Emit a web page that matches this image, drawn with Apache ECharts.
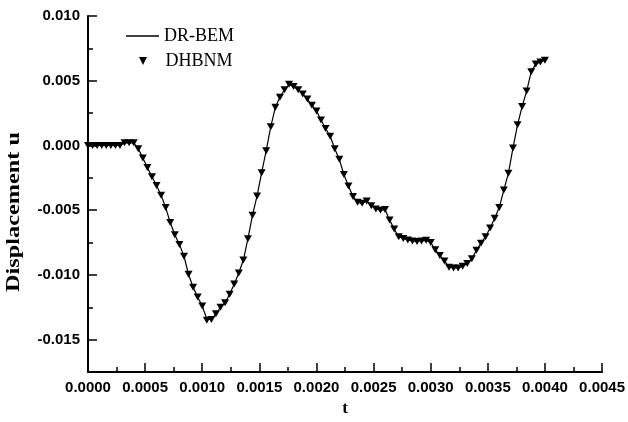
<!DOCTYPE html>
<html>
<head>
<meta charset="utf-8">
<script src="https://cdn.jsdelivr.net/npm/echarts@6/dist/echarts.min.js"></script>
<style>html,body{margin:0;padding:0;background:#fff;}#chart{width:628px;height:422px;}</style>
</head>
<body>
<div id="chart"></div>
<script>
// time values (s)
var tValues = [0,0.00004,0.00008,0.00012,0.00016,0.0002,0.00024,0.00028,0.00032,0.00036,
0.0004,0.00044,0.00048,0.00052,0.00056,0.0006,0.00064,0.00068,0.00072,0.00076,
0.0008,0.00084,0.00088,0.00092,0.00096,0.001,0.00104,0.00108,0.00112,0.00116,
0.0012,0.00124,0.00128,0.00132,0.00136,0.0014,0.00144,0.00148,0.00152,0.00156,
0.0016,0.00164,0.00168,0.00172,0.00176,0.0018,0.00184,0.00188,0.00192,0.00196,
0.002,0.00204,0.00208,0.00212,0.00216,0.0022,0.00224,0.00228,0.00232,0.00236,
0.0024,0.00244,0.00248,0.00252,0.00256,0.0026,0.00264,0.00268,0.00272,0.00276,
0.0028,0.00284,0.00288,0.00292,0.00296,0.003,0.00304,0.00308,0.00312,0.00316,
0.0032,0.00324,0.00328,0.00332,0.00336,0.0034,0.00344,0.00348,0.00352,0.00356,
0.0036,0.00364,0.00368,0.00372,0.00376,0.0038,0.00384,0.00388,0.00392,0.00396,0.004];
// DR-BEM displacement u
var drBem = [0,0,0,0,0,0,0,0,0.0002,0.0002,
0.0002,-0.00025,-0.00096,-0.00171,-0.00241,-0.0031,-0.00384,-0.0048,-0.00595,-0.0069,
-0.00765,-0.00855,-0.00995,-0.01095,-0.0117,-0.0124,-0.0134,-0.01345,-0.013,-0.0125,
-0.01215,-0.0115,-0.0107,-0.00985,-0.00885,-0.0072,-0.00539,-0.0039,-0.0021,-0.0004,
0.00145,0.00295,0.00372,0.0043,0.00472,0.00456,0.0043,0.00397,0.00358,0.0031,
0.00266,0.00197,0.00131,0.00071,-0.00026,-0.00107,-0.00224,-0.00314,-0.00395,-0.00438,
-0.00447,-0.0043,-0.00465,-0.00491,-0.005,-0.00495,-0.00575,-0.00645,-0.00705,-0.00718,
-0.0073,-0.00738,-0.00741,-0.00738,-0.00733,-0.0075,-0.00805,-0.0085,-0.00892,-0.0094,
-0.00946,-0.00946,-0.00933,-0.00912,-0.00875,-0.0081,-0.00755,-0.00705,-0.00637,-0.00563,
-0.0048,-0.00345,-0.00215,-0.0002,0.0016,0.003,0.0042,0.0057,0.0063,0.00645,0.00658];
// DHBNM displacement u
var dhbnm = [0,0,0,0,0,0,0,0,0.0002,0.0002,
0.0002,-0.00025,-0.00096,-0.00171,-0.00241,-0.0031,-0.00384,-0.0048,-0.00595,-0.0069,
-0.00765,-0.00855,-0.00995,-0.01095,-0.0117,-0.0124,-0.0135,-0.01345,-0.013,-0.0125,
-0.01215,-0.0115,-0.0107,-0.00985,-0.00885,-0.0072,-0.00539,-0.0039,-0.0021,-0.0004,
0.00145,0.00295,0.00372,0.0043,0.00472,0.00456,0.0043,0.00397,0.00358,0.0031,
0.00266,0.00197,0.00131,0.00071,-0.00026,-0.00107,-0.00224,-0.00314,-0.00395,-0.00438,
-0.00447,-0.0043,-0.00465,-0.00491,-0.005,-0.00495,-0.00575,-0.00645,-0.00705,-0.00718,
-0.0073,-0.00738,-0.00741,-0.00738,-0.00733,-0.0075,-0.00805,-0.0085,-0.00892,-0.0094,
-0.00946,-0.00946,-0.00933,-0.00912,-0.00875,-0.0081,-0.00755,-0.00705,-0.00637,-0.00563,
-0.0048,-0.00345,-0.00215,-0.0002,0.0016,0.003,0.0042,0.0057,0.0063,0.00645,0.00658];
var yMajorTicks = [-0.015,-0.01,-0.005,0,0.005,0.01];

function pairs(xs, ys){ return xs.map(function(x,i){ return [x, ys[i]]; }); }

var chart = echarts.init(document.getElementById('chart'), null, {renderer:'canvas'});
var sansBold = {fontFamily:'"Liberation Sans", Arial', fontWeight:'bold', fontSize:15, color:'#000'};
var legendText = {fontFamily:'"Liberation Serif", "Times New Roman"', fontSize:18, color:'#000'};
chart.setOption({
  animation:false,
  backgroundColor:'#fff',
  grid:{left:88, right:25, top:16, bottom:50},
  legend:[{
    orient:'vertical', left:126, top:27, padding:0, itemWidth:33, itemHeight:1.5,
    icon:'rect', textStyle:legendText,
    data:[{name:'DR-BEM'}]
  },{
    orient:'vertical', left:139, top:52, padding:0, itemWidth:35, itemHeight:8,
    textStyle:legendText,
    data:[{name:'DHBNM'}]
  }],
  xAxis:{
    type:'value', min:0, max:0.0045, interval:0.0005,
    name:'t', nameLocation:'middle', nameGap:26,
    nameTextStyle:{fontFamily:'"Liberation Serif", "Times New Roman"', fontWeight:'bold', fontSize:17, color:'#000'},
    axisLine:{show:true, onZero:false, lineStyle:{color:'#000', width:2}},
    axisTick:{show:true, inside:true, length:9, lineStyle:{color:'#000', width:1.5}},
    minorTick:{show:true, splitNumber:2, length:5, lineStyle:{color:'#000', width:1.5}},
    axisLabel:Object.assign({margin:8, formatter:function(v){return v.toFixed(4);}}, sansBold),
    splitLine:{show:false}
  },
  yAxis:[{
    type:'value', min:-0.0175, max:0.01,
    axisLine:{show:true, onZero:false, lineStyle:{color:'#000', width:2}},
    axisTick:{show:true, inside:true, length:9, customValues:yMajorTicks, lineStyle:{color:'#000', width:1.5}},
    axisLabel:Object.assign({margin:8, customValues:yMajorTicks, formatter:function(v){return v.toFixed(3);}}, sansBold),
    splitLine:{show:false}
  },{
    type:'value', min:-0.0175, max:0.01, interval:0.0025, position:'left',
    axisLine:{show:false, onZero:false},
    axisTick:{show:true, inside:true, length:5, lineStyle:{color:'#000', width:1.5}},
    axisLabel:{show:false},
    splitLine:{show:false}
  }],
  graphic:[{
    type:'text', x:14, y:212, rotation:Math.PI/2, scaleX:1.35,
    style:{text:'Displacement u', fill:'#000', font:'bold 18px "Liberation Serif", "Times New Roman"', textAlign:'center', textVerticalAlign:'middle'}
  }],
  series:[{
    name:'DR-BEM', type:'line', yAxisIndex:0, data:pairs(tValues, drBem),
    showSymbol:false, symbol:'none', smooth:false,
    lineStyle:{color:'#000', width:1.2}, itemStyle:{color:'#000'}
  },{
    name:'DHBNM', type:'scatter', yAxisIndex:0, data:pairs(tValues, dhbnm),
    symbol:'path://M0,0 L10,0 L5,10 Z', symbolSize:[8,7],
    itemStyle:{color:'#000', opacity:1}
  }]
});
</script>
</body>
</html>
